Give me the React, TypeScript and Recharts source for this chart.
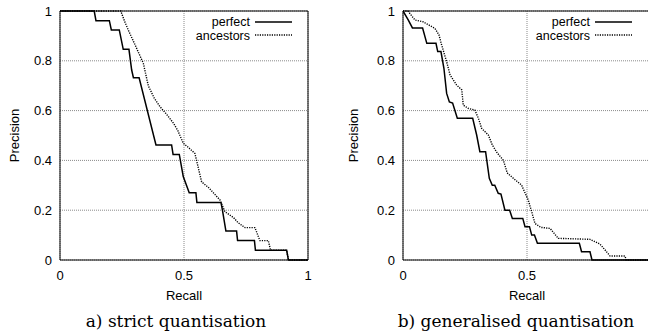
import { LineChart, Line, XAxis, YAxis, CartesianGrid, ReferenceArea } from "recharts";

// recall / precision pairs
const strictPerfect = [
  [0, 1], [0.138, 1], [0.145, 0.961], [0.199, 0.961], [0.207, 0.924], [0.239, 0.924],
  [0.255, 0.846], [0.278, 0.846], [0.289, 0.763], [0.296, 0.732], [0.319, 0.732],
  [0.387, 0.462], [0.45, 0.462], [0.456, 0.424], [0.481, 0.424], [0.497, 0.335],
  [0.521, 0.27], [0.548, 0.27], [0.552, 0.231], [0.649, 0.231], [0.655, 0.2],
  [0.669, 0.116], [0.712, 0.116], [0.716, 0.078], [0.784, 0.078], [0.788, 0.039],
  [0.914, 0.039], [0.921, 0], [1, 0],
];

const strictAncestors = [
  [0, 1], [0.245, 1], [0.26, 0.96], [0.275, 0.924], [0.3, 0.87], [0.336, 0.79],
  [0.356, 0.7], [0.38, 0.65], [0.403, 0.616], [0.43, 0.585], [0.457, 0.55],
  [0.475, 0.52], [0.497, 0.469], [0.52, 0.45], [0.544, 0.428], [0.571, 0.314],
  [0.6, 0.29], [0.645, 0.241], [0.665, 0.194], [0.7, 0.17], [0.718, 0.15],
  [0.746, 0.13], [0.786, 0.13], [0.806, 0.078], [0.84, 0.078], [0.849, 0.039],
  [0.914, 0.039], [0.921, 0], [1, 0],
];

const genPerfect = [
  [0, 1], [0.021, 0.964], [0.038, 0.932], [0.079, 0.932], [0.096, 0.87], [0.133, 0.87],
  [0.14, 0.837], [0.153, 0.837], [0.165, 0.77], [0.176, 0.669], [0.187, 0.635],
  [0.2, 0.63], [0.219, 0.569], [0.281, 0.569], [0.297, 0.502], [0.31, 0.435],
  [0.333, 0.435], [0.348, 0.328], [0.36, 0.3], [0.37, 0.3], [0.384, 0.268],
  [0.395, 0.265], [0.411, 0.2], [0.43, 0.2], [0.441, 0.167], [0.483, 0.167],
  [0.492, 0.134], [0.51, 0.134], [0.519, 0.1], [0.53, 0.1], [0.542, 0.067],
  [0.711, 0.067], [0.72, 0.033], [0.754, 0.033], [0.762, 0], [1, 0],
];

const genAncestors = [
  [0, 1], [0.02, 1], [0.048, 0.964], [0.08, 0.957], [0.129, 0.93], [0.145, 0.904],
  [0.156, 0.863], [0.176, 0.796], [0.19, 0.743], [0.216, 0.703], [0.237, 0.683],
  [0.243, 0.622], [0.263, 0.609], [0.29, 0.602], [0.304, 0.569], [0.317, 0.529],
  [0.344, 0.502], [0.36, 0.462], [0.38, 0.43], [0.405, 0.4], [0.42, 0.35],
  [0.445, 0.328], [0.478, 0.301], [0.505, 0.241], [0.52, 0.19], [0.532, 0.147],
  [0.556, 0.131], [0.593, 0.127], [0.626, 0.087], [0.754, 0.083], [0.794, 0.064],
  [0.815, 0.04], [0.835, 0.016], [0.895, 0.016], [0.9, 0], [1, 0],
];

const gridX = [0, 0.5, 1];
const strictXTicks = [0, 0.5, 1];
const genXTicks = [0, 0.5]; // the "1" of the right plot falls off the page
const yTicks = [0, 0.2, 0.4, 0.6, 0.8, 1];
const seriesNames = ["perfect", "ancestors"];
const captions = ["a) strict quantisation", "b) generalised quantisation"];

const FONT = "'Liberation Sans', Arial, Helvetica, sans-serif";
const FS = 13;
const DOTS = "1.2 1.2";

const toRows = (pts: number[][]) => pts.map(([r, p]) => ({ r, p }));

const LegendBox = ({ left }: { left: number }) => (
  <svg width={110} height={32} style={{ position: "absolute", left, top: 14 }}>
    <text x={62} y={11.8} textAnchor="end" fontFamily={FONT} fontSize={12.5} fill="#000">
      {seriesNames[0]}
    </text>
    <line x1={67} x2={104} y1={8} y2={8} stroke="#000" strokeWidth={1.5} />
    <text x={62} y={26.4} textAnchor="end" fontFamily={FONT} fontSize={12.5} fill="#000">
      {seriesNames[1]}
    </text>
    <line x1={67} x2={104} y1={21} y2={21} stroke="#000" strokeWidth={1.4} strokeDasharray={DOTS} />
  </svg>
);

type PanelProps = {
  perfect: number[][];
  ancestors: number[][];
  xTicks: number[];
  left: number;
  legendLeft: number;
  labelOffset: number;
};

const Panel = ({ perfect, ancestors, xTicks, left, legendLeft, labelOffset }: PanelProps) => (
  <div style={{ position: "absolute", left, top: 0, width: 324, height: 334 }}>
    <LineChart width={324} height={334} margin={{ top: 11, right: 16, left: 0, bottom: 34 }}>
      <CartesianGrid stroke="#8a8a8a" strokeDasharray="1 1" horizontalValues={yTicks} verticalValues={gridX} />
      <XAxis
        dataKey="r"
        type="number"
        domain={[0, 1]}
        ticks={xTicks}
        allowDataOverflow
        height={40}
        axisLine={false}
        tickLine={false}
        tickMargin={5}
        tick={{ fontFamily: FONT, fontSize: FS, fill: "#000" }}
        label={{ value: "Recall", position: "insideBottom", offset: 0, fontFamily: FONT, fontSize: FS, fill: "#000" }}
      />
      <YAxis
        type="number"
        domain={[0, 1]}
        ticks={yTicks}
        width={60}
        axisLine={false}
        tickLine={false}
        tick={{ fontFamily: FONT, fontSize: FS, fill: "#000" }}
        label={{
          value: "Precision",
          angle: -90,
          position: "insideLeft",
          offset: labelOffset,
          style: { textAnchor: "middle", fontFamily: FONT, fontSize: FS, fill: "#000" },
        }}
      />
      <Line
        data={toRows(ancestors)}
        dataKey="p"
        name={seriesNames[1]}
        type="linear"
        stroke="#000"
        strokeWidth={1.4}
        strokeDasharray={DOTS}
        dot={false}
        isAnimationActive={false}
      />
      <Line
        data={toRows(perfect)}
        dataKey="p"
        name={seriesNames[0]}
        type="linear"
        stroke="#000"
        strokeWidth={1.5}
        dot={false}
        isAnimationActive={false}
      />
      <ReferenceArea x1={0} x2={1} y1={0} y2={1} fill="none" stroke="#000" strokeWidth={1} ifOverflow="visible" />
    </LineChart>
    <LegendBox left={legendLeft} />
  </div>
);

export default function App() {
  return (
    <div style={{ position: "absolute", left: 0, top: 0, width: 648, height: 334, overflow: "hidden", background: "#fff" }}>
      <Panel perfect={strictPerfect} ancestors={strictAncestors} xTicks={strictXTicks} left={0} legendLeft={188} labelOffset={14} />
      <Panel perfect={genPerfect} ancestors={genAncestors} xTicks={genXTicks} left={343} legendLeft={184.7} labelOffset={10.5} />
      <svg width={648} height={334} style={{ position: "absolute", left: 0, top: 0, pointerEvents: "none" }}>
        <text x={176} y={327} textAnchor="middle" fontFamily="'DejaVu Serif', serif" fontSize={17} fill="#000">
          {captions[0]}
        </text>
        <text x={516} y={327} textAnchor="middle" fontFamily="'DejaVu Serif', serif" fontSize={17} fill="#000">
          {captions[1]}
        </text>
      </svg>
    </div>
  );
}
